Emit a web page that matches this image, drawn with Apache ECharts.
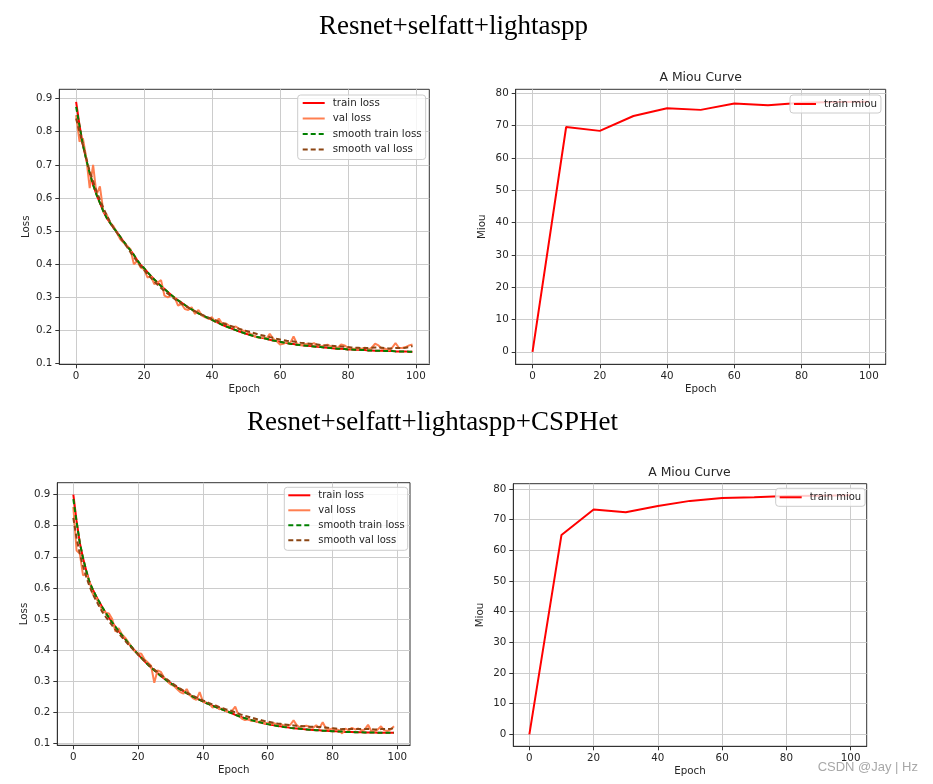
<!DOCTYPE html>
<html><head><meta charset="utf-8">
<script src="https://cdn.jsdelivr.net/npm/echarts@6/dist/echarts.min.js"></script>
<style>html,body{margin:0;padding:0;background:#fff}#c{width:933px;height:784px}</style>
</head><body><div id="c"></div>
<script>
// ---------- data ----------
const epochs = Array.from({length: 100}, (_, i) => i);
const miouEpochs = [0, 10, 20, 30, 40, 50, 60, 70, 80, 90, 100];
const xTicks = [0, 20, 40, 60, 80, 100];
const lossTicks = [0.1, 0.2, 0.3, 0.4, 0.5, 0.6, 0.7, 0.8, 0.9];
const miouTicks = [0, 10, 20, 30, 40, 50, 60, 70, 80];

const trainLoss1 = [0.890,0.820,0.760,0.715,0.675,0.640,0.610,0.585,0.560,0.540,
0.525,0.510,0.497,0.483,0.468,0.455,0.442,0.428,0.412,0.398,
0.388,0.376,0.365,0.354,0.344,0.334,0.325,0.316,0.307,0.299,
0.291,0.284,0.277,0.270,0.264,0.258,0.252,0.247,0.242,0.237,
0.232,0.227,0.222,0.217,0.213,0.209,0.205,0.201,0.197,0.194,
0.190,0.187,0.184,0.181,0.179,0.177,0.175,0.172,0.170,0.168,
0.166,0.164,0.162,0.160,0.159,0.157,0.156,0.155,0.154,0.153,
0.152,0.151,0.150,0.149,0.148,0.147,0.146,0.145,0.145,0.144,
0.143,0.143,0.142,0.142,0.141,0.141,0.140,0.140,0.139,0.139,
0.139,0.138,0.138,0.138,0.137,0.137,0.137,0.137,0.136,0.136];
const valLoss1 = [0.850,0.770,0.780,0.720,0.630,0.700,0.610,0.635,0.560,0.550,
0.525,0.515,0.495,0.475,0.465,0.455,0.445,0.400,0.410,0.390,
0.385,0.360,0.365,0.340,0.345,0.352,0.305,0.300,0.305,0.300,
0.275,0.280,0.265,0.262,0.270,0.250,0.262,0.245,0.240,0.235,
0.240,0.225,0.236,0.220,0.222,0.215,0.210,0.212,0.205,0.200,
0.198,0.192,0.186,0.180,0.178,0.180,0.175,0.190,0.175,0.168,
0.158,0.160,0.165,0.162,0.182,0.160,0.155,0.158,0.160,0.158,
0.162,0.155,0.152,0.155,0.157,0.152,0.150,0.148,0.158,0.155,
0.148,0.146,0.145,0.146,0.145,0.148,0.142,0.148,0.160,0.155,
0.145,0.145,0.140,0.148,0.162,0.148,0.147,0.150,0.155,0.158];
const smoothTrain1 = [0.875,0.818,0.760,0.715,0.675,0.640,0.610,0.585,0.560,0.540,
0.525,0.510,0.497,0.483,0.468,0.455,0.442,0.428,0.412,0.398,
0.388,0.376,0.365,0.354,0.344,0.334,0.325,0.316,0.307,0.299,
0.291,0.284,0.277,0.270,0.264,0.258,0.252,0.247,0.242,0.237,
0.232,0.227,0.222,0.217,0.213,0.209,0.205,0.201,0.197,0.194,
0.190,0.187,0.184,0.181,0.179,0.177,0.175,0.172,0.170,0.168,
0.166,0.164,0.162,0.160,0.159,0.157,0.156,0.155,0.154,0.153,
0.152,0.151,0.150,0.149,0.148,0.147,0.146,0.145,0.145,0.144,
0.143,0.143,0.142,0.142,0.141,0.141,0.140,0.140,0.139,0.139,
0.139,0.138,0.138,0.138,0.137,0.137,0.137,0.137,0.136,0.136];
const smoothVal1 = [0.840,0.800,0.760,0.720,0.680,0.650,0.620,0.595,0.570,0.548,
0.528,0.510,0.495,0.480,0.466,0.452,0.436,0.422,0.408,0.394,
0.382,0.370,0.359,0.348,0.338,0.328,0.319,0.311,0.303,0.295,
0.288,0.281,0.275,0.269,0.263,0.258,0.253,0.248,0.243,0.239,
0.235,0.231,0.227,0.223,0.219,0.215,0.212,0.209,0.205,0.202,
0.199,0.196,0.193,0.190,0.187,0.185,0.183,0.180,0.178,0.175,
0.173,0.171,0.169,0.168,0.167,0.165,0.163,0.162,0.161,0.160,
0.159,0.158,0.156,0.155,0.155,0.154,0.153,0.152,0.152,0.151,
0.150,0.149,0.148,0.148,0.147,0.147,0.147,0.148,0.149,0.149,
0.148,0.147,0.146,0.146,0.147,0.147,0.147,0.148,0.150,0.153];

const trainLoss2 = [0.900,0.815,0.745,0.695,0.655,0.618,0.595,0.574,0.555,0.537,
0.520,0.504,0.489,0.475,0.461,0.448,0.435,0.422,0.410,0.398,
0.386,0.375,0.364,0.354,0.344,0.335,0.326,0.317,0.309,0.301,
0.294,0.287,0.280,0.274,0.268,0.262,0.256,0.250,0.245,0.240,
0.235,0.230,0.226,0.221,0.217,0.213,0.209,0.205,0.201,0.197,
0.192,0.188,0.184,0.181,0.178,0.175,0.172,0.169,0.167,0.164,
0.162,0.160,0.158,0.156,0.155,0.153,0.152,0.150,0.149,0.148,
0.147,0.146,0.145,0.144,0.143,0.142,0.142,0.141,0.141,0.140,
0.139,0.139,0.138,0.138,0.137,0.137,0.137,0.136,0.136,0.136,
0.135,0.135,0.135,0.135,0.134,0.134,0.134,0.134,0.134,0.134];
const valLoss2 = [0.860,0.720,0.710,0.640,0.645,0.620,0.580,0.570,0.545,0.530,
0.520,0.518,0.500,0.460,0.470,0.450,0.440,0.425,0.410,0.395,
0.390,0.388,0.370,0.360,0.350,0.295,0.335,0.330,0.312,0.300,
0.290,0.285,0.275,0.265,0.260,0.275,0.255,0.245,0.240,0.265,
0.235,0.232,0.228,0.215,0.222,0.210,0.212,0.205,0.200,0.205,
0.218,0.190,0.180,0.175,0.178,0.172,0.175,0.168,0.172,0.165,
0.166,0.163,0.165,0.160,0.162,0.158,0.156,0.160,0.174,0.158,
0.152,0.155,0.157,0.152,0.150,0.158,0.150,0.168,0.148,0.145,
0.148,0.145,0.143,0.132,0.148,0.142,0.150,0.145,0.148,0.142,
0.145,0.160,0.140,0.138,0.145,0.155,0.142,0.140,0.145,0.155];
const smoothTrain2 = [0.885,0.812,0.745,0.695,0.655,0.618,0.595,0.574,0.555,0.537,
0.520,0.504,0.489,0.475,0.461,0.448,0.435,0.422,0.410,0.398,
0.386,0.375,0.364,0.354,0.344,0.335,0.326,0.317,0.309,0.301,
0.294,0.287,0.280,0.274,0.268,0.262,0.256,0.250,0.245,0.240,
0.235,0.230,0.226,0.221,0.217,0.213,0.209,0.205,0.201,0.197,
0.192,0.188,0.184,0.181,0.178,0.175,0.172,0.169,0.167,0.164,
0.162,0.160,0.158,0.156,0.155,0.153,0.152,0.150,0.149,0.148,
0.147,0.146,0.145,0.144,0.143,0.142,0.142,0.141,0.141,0.140,
0.139,0.139,0.138,0.138,0.137,0.137,0.137,0.136,0.136,0.136,
0.135,0.135,0.135,0.135,0.134,0.134,0.134,0.134,0.134,0.134];
const smoothVal2 = [0.825,0.760,0.710,0.670,0.635,0.605,0.580,0.560,0.540,0.522,
0.507,0.493,0.479,0.466,0.454,0.442,0.430,0.418,0.407,0.396,
0.386,0.376,0.366,0.356,0.347,0.338,0.329,0.321,0.313,0.305,
0.297,0.290,0.283,0.276,0.270,0.264,0.258,0.253,0.248,0.243,
0.238,0.234,0.229,0.225,0.221,0.217,0.214,0.210,0.207,0.204,
0.200,0.196,0.192,0.189,0.186,0.183,0.180,0.177,0.175,0.172,
0.170,0.168,0.166,0.164,0.163,0.161,0.160,0.159,0.158,0.157,
0.156,0.155,0.155,0.154,0.154,0.153,0.153,0.152,0.151,0.150,
0.149,0.148,0.147,0.146,0.146,0.146,0.146,0.146,0.146,0.146,
0.146,0.147,0.146,0.145,0.145,0.146,0.146,0.146,0.147,0.149];

const miou1 = [0, 69.6, 68.4, 73.0, 75.4, 74.9, 76.9, 76.3, 77.1, 77.3, 77.4];
const miou2 = [0, 65.0, 73.3, 72.4, 74.4, 76.1, 77.0, 77.3, 77.7, 77.8, 77.9];

// ---------- style helpers ----------
const FONT = 'DejaVu Sans';
const TXT = '#262626';
const FS = 10.3;

function xAx(gi, min, max) {
  return {
    type: 'value', gridIndex: gi, min: min, max: max,
    name: 'Epoch', nameLocation: 'middle', nameGap: 20,
    nameTextStyle: {fontFamily: FONT, fontSize: FS, color: TXT},
    axisLine: {show: true, onZero: false, lineStyle: {color: '#333', width: 1}},
    axisTick: {show: true, inside: false, length: 4, customValues: xTicks, lineStyle: {color: '#333'}},
    axisLabel: {show: true, customValues: xTicks, margin: 7, fontFamily: FONT, fontSize: FS, color: TXT},
    splitLine: {show: true, lineStyle: {color: '#cccccc', width: 1}}
  };
}
function yAx(gi, min, max, name, ticks, fmt) {
  return {
    type: 'value', gridIndex: gi, min: min, max: max,
    name: name, nameLocation: 'middle', nameGap: 28,
    nameTextStyle: {fontFamily: FONT, fontSize: FS, color: TXT},
    axisLine: {show: true, onZero: false, lineStyle: {color: '#333', width: 1}},
    axisTick: {show: true, inside: false, length: 4, customValues: ticks, lineStyle: {color: '#333'}},
    axisLabel: {show: true, customValues: ticks, margin: 7, fontFamily: FONT, fontSize: FS, color: TXT, formatter: fmt},
    splitLine: {show: true, lineStyle: {color: '#cccccc', width: 1}}
  };
}
function line(name, ai, xs, ys, color, width, dashed) {
  return {
    type: 'line', name: name, xAxisIndex: ai, yAxisIndex: ai,
    data: xs.map((x, i) => [x, ys[i]]),
    symbol: 'none', showSymbol: false, silent: true, animation: false,
    lineStyle: {color: color, width: width, type: dashed ? [5, 3] : 'solid'},
    itemStyle: {color: color}
  };
}
function legend(left, top, names, gap, pad, fs) {
  return {
    orient: 'vertical', left: left, top: top, padding: pad,
    itemGap: gap, itemWidth: 22, itemHeight: 12, data: names,
    selectedMode: false,
    backgroundColor: 'rgba(255,255,255,0.8)', borderColor: '#cccccc', borderWidth: 1, borderRadius: 3,
    itemStyle: {opacity: 0},
    textStyle: {fontFamily: FONT, fontSize: fs, color: TXT, padding: [0, 0, 0, 3], lineHeight: 12}
  };
}
const lossNames = ['train loss', 'val loss', 'smooth train loss', 'smooth val loss'];
const f1 = v => v.toFixed(1);
const f0 = v => String(Math.round(v));

const option = {
  backgroundColor: '#ffffff',
  animation: false,
  grid: [
    {left: 59.3, top: 89.3, width: 370, height: 275, show: true, borderColor: '#333', borderWidth: 1},
    {left: 515.7, top: 89.3, width: 370, height: 275, show: true, borderColor: '#333', borderWidth: 1},
    {left: 57.3, top: 482.7, width: 352.7, height: 262.6, show: true, borderColor: '#333', borderWidth: 1},
    {left: 513.3, top: 483.7, width: 353.4, height: 262.6, show: true, borderColor: '#333', borderWidth: 1}
  ],
  xAxis: [xAx(0, -4.95, 103.95), xAx(1, -5, 105), xAx(2, -4.95, 103.95), xAx(3, -5, 105)],
  yAxis: [
    yAx(0, 0.098, 0.928, 'Loss', lossTicks, f1),
    yAx(1, -3.87, 81.27, 'Miou', miouTicks, f0),
    yAx(2, 0.094, 0.938, 'Loss', lossTicks, f1),
    yAx(3, -3.9, 81.7, 'Miou', miouTicks, f0)
  ],
  legend: [
    legend(297.7, 95, lossNames, 3.5, [2, 4, 4, 4], 10.3),
    legend(790, 95, ['train miou'], 0, [3, 4, 3, 3], 10.3),
    legend(284.3, 487.3, lossNames, 3, [2, 3, 4, 3], 10),
    legend(775.7, 488.3, ['train miou'], 0, [3, 4, 3, 3], 10)
  ],
  graphic: [
    {type: 'text', x: 453.5, y: 27, style: {text: 'Resnet+selfatt+lightaspp', fill: '#000', font: '27px "Liberation Serif"', align: 'center', verticalAlign: 'middle', textAlign: 'center', textVerticalAlign: 'middle'}},
    {type: 'text', x: 432.5, y: 423, style: {text: 'Resnet+selfatt+lightaspp+CSPHet', fill: '#000', font: '27px "Liberation Serif"', align: 'center', verticalAlign: 'middle', textAlign: 'center', textVerticalAlign: 'middle'}},
    {type: 'text', x: 700.7, y: 77.7, style: {text: 'A Miou Curve', fill: TXT, font: '12.4px "DejaVu Sans"', align: 'center', verticalAlign: 'middle', textAlign: 'center', textVerticalAlign: 'middle'}},
    {type: 'text', x: 689.5, y: 472.3, style: {text: 'A Miou Curve', fill: TXT, font: '12.4px "DejaVu Sans"', align: 'center', verticalAlign: 'middle', textAlign: 'center', textVerticalAlign: 'middle'}},
    {type: 'text', x: 918, y: 767, style: {text: 'CSDN @Jay | Hz', fill: '#a8a8a8', font: '13px "Liberation Sans"', align: 'right', verticalAlign: 'middle', textAlign: 'right', textVerticalAlign: 'middle'}}
  ],
  series: [
    line('train loss', 0, epochs, trainLoss1, '#ff0000', 2, false),
    line('val loss', 0, epochs, valLoss1, '#ff7f50', 2, false),
    line('smooth train loss', 0, epochs, smoothTrain1, '#008000', 2, true),
    line('smooth val loss', 0, epochs, smoothVal1, '#8b4513', 2, true),
    line('train miou', 1, miouEpochs, miou1, '#ff0000', 2, false),
    line('train loss', 2, epochs, trainLoss2, '#ff0000', 2, false),
    line('val loss', 2, epochs, valLoss2, '#ff7f50', 2, false),
    line('smooth train loss', 2, epochs, smoothTrain2, '#008000', 2, true),
    line('smooth val loss', 2, epochs, smoothVal2, '#8b4513', 2, true),
    line('train miou', 3, miouEpochs, miou2, '#ff0000', 2, false)
  ]
};
const chart = echarts.init(document.getElementById('c'), null, {renderer: 'canvas'});
chart.setOption(option);
</script></body></html>
